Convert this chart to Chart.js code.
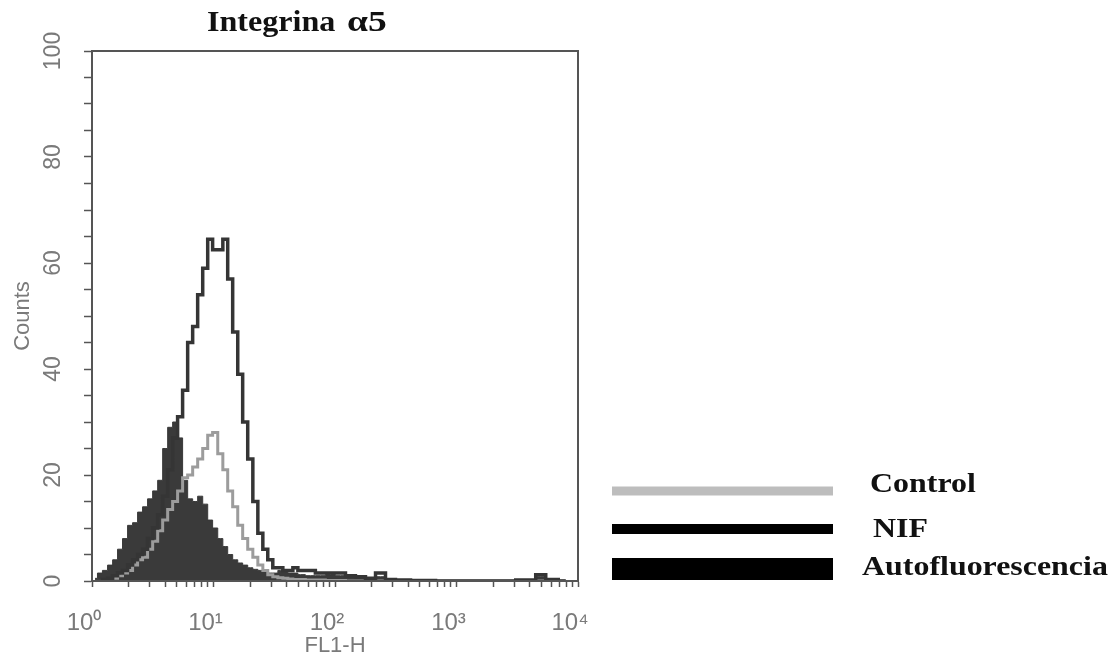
<!DOCTYPE html>
<html>
<head>
<meta charset="utf-8">
<title>Integrina α5</title>
<script src="https://cdn.jsdelivr.net/npm/chart.js@4/dist/chart.umd.min.js"></script>
<style>
  html, body { margin: 0; padding: 0; background: #fff; }
  canvas { display: block; }
</style>
</head>
<body>
<canvas id="histo" width="1114" height="661"></canvas>
<script>
// FL1-H bin centres (log channel), shared by the three histograms
const fl1 = [1.06, 1.16, 1.28, 1.41, 1.55, 1.70, 1.87, 2.06, 2.26, 2.49,
             2.73, 3.01, 3.31, 3.64, 4.00, 4.40, 4.83, 5.31, 5.84, 6.43,
             7.06, 7.77, 8.55, 9.39, 10.3, 11.4, 12.5, 13.7, 15.1, 16.6,
             18.2, 20.1, 22.1, 24.3, 26.7, 29.3, 32.3, 35.5, 39.0, 42.9,
             47.2, 51.9, 62.7, 75.8, 91.6, 111, 134, 162, 196, 237,
             286, 346, 506, 894, 2312, 4080, 4935, 5966, 7930];

// counts per bin
const nif = [0, 0, 0.3, 0.5, 1, 1.5, 2, 3, 4, 5,
             6, 8, 10, 12.5, 16, 21, 27, 31, 36, 45,
             48, 54, 59, 64.5, 62.5, 62.5, 64.5, 57, 47, 39,
             30, 23, 15, 9, 6, 4, 2.5, 2.5, 2, 2,
             2.5, 2, 2, 1.5, 1.5, 1.5, 1, 0.8, 0.5, 1.5,
             0.3, 0.2, 0.1, 0, 0, 0.2, 1.2, 0.3, 0];
const control = [0, 0, 0.2, 0.3, 0.5, 1, 1.5, 2, 3, 4,
                 4.5, 6, 7.5, 9.5, 11.5, 13.5, 15, 17, 19.5, 20,
                 21.5, 23, 25, 27.5, 28, 24, 21, 17, 14, 10.5,
                 8, 6, 4.5, 3, 2, 1.2, 0.8, 0.6, 0.5, 0.4,
                 0.3, 0.3, 0.2, 0.2, 0.1, 0.1, 0, 0, 0, 0,
                 0, 0, 0, 0, 0, 0, 0, 0, 0];
const autofluor = [0.5, 1.5, 2, 3, 4, 6, 8, 10.5, 11, 13,
                   14, 15.5, 17, 19, 25, 29, 30, 27, 19, 15.5,
                   15, 16, 14.5, 11.5, 10, 8, 6.5, 5, 4, 3.4,
                   3, 2.5, 2.2, 2, 1.8, 1.5, 1.5, 2, 2, 1.5,
                   1.5, 1.2, 1, 1, 1.2, 1, 0.8, 0.6, 0.3, 0.8,
                   0.2, 0.2, 0, 0.1, 0, 0.2, 0.8, 0.2, 0];

const xMajorTicks = [1, 10, 100, 1000, 10000];
const xTickLabels = ['10\u2070', '10\u00b9', '10\u00b2', '10\u00b3', '10\u2074'];
const yTickLabels = ['0', '20', '40', '60', '80', '100'];
const legendNames = ['Control', 'NIF', 'Autofluorescencia'];

const axisGrey = '#7a7a7a';
const frameGrey = '#555555';
const sans = '"Liberation Sans", Arial, sans-serif';

// all log ticks: 1,2,...9,10,20,...,10000
const xAllTicks = [];
xMajorTicks.forEach(function (m, i) {
  if (i === xMajorTicks.length - 1) { xAllTicks.push(m); return; }
  for (let k = 1; k < 10; k++) xAllTicks.push(k * m);
});

function pts(arr) {
  return fl1.map(function (x, i) { return { x: x, y: arr[i] }; });
}

// frame round the plot area
const framePlugin = {
  id: 'frame',
  afterDatasetsDraw(chart) {
    const a = chart.chartArea, ctx = chart.ctx;
    ctx.save();
    ctx.strokeStyle = frameGrey;
    ctx.lineWidth = 2;
    ctx.strokeRect(a.left, a.top, a.right - a.left, a.bottom - a.top);
    ctx.restore();
  }
};

// title and side legend, serif bold, slightly wide like the scan
const legendBars = [
  { color: '#bdbdbd', mid: 491, h: 9, tx: 870, ty: 492 },
  { color: '#000000', mid: 529, h: 10, tx: 873, ty: 537 },
  { color: '#000000', mid: 569, h: 22, tx: 862, ty: 575 }
];
function wideText(ctx, text, x, y, sx) {
  ctx.save();
  ctx.translate(x, y);
  ctx.scale(sx, 1);
  ctx.fillText(text, 0, 0);
  ctx.restore();
}
const sidePlugin = {
  id: 'side',
  afterDraw(chart) {
    const ctx = chart.ctx;
    ctx.save();
    ctx.fillStyle = '#111';
    ctx.textBaseline = 'alphabetic';
    ctx.font = 'bold 30px "Liberation Serif", "Times New Roman", serif';
    wideText(ctx, 'Integrina', 207, 31, 1.07);
    wideText(ctx, '\u03b15', 347, 31, 1.25);
    ctx.font = 'bold 28px "Liberation Serif", "Times New Roman", serif';
    legendNames.forEach(function (name, i) {
      const b = legendBars[i];
      ctx.fillStyle = b.color;
      ctx.fillRect(612, b.mid - b.h / 2, 221, b.h);
      ctx.fillStyle = '#111';
      wideText(ctx, name, b.tx, b.ty, 1.14);
    });
    ctx.restore();
  }
};

const config = {
  type: 'line',
  data: {
    datasets: [
      { label: 'NIF', data: pts(nif), borderColor: '#353535', borderWidth: 3.5,
        fill: false, stepped: 'middle', pointRadius: 0 },
      { label: 'Control', data: pts(control), borderColor: '#9c9c9c', borderWidth: 3,
        fill: false, stepped: 'middle', pointRadius: 0 },
      { label: 'Autofluorescencia', data: pts(autofluor), borderColor: '#3a3a3a', borderWidth: 1,
        backgroundColor: '#3a3a3a', fill: 'origin', stepped: 'middle', pointRadius: 0 }
    ]
  },
  options: {
    responsive: false,
    animation: false,
    events: [],
    layout: { padding: { top: 51, right: 536, left: 0, bottom: 0 } },
    plugins: {
      legend: { display: false },
      title: { display: false },
      tooltip: { enabled: false }
    },
    scales: {
      x: {
        type: 'logarithmic',
        min: 1,
        max: 10000,
        afterBuildTicks: function (s) { s.ticks = xAllTicks.map(function (v) { return { value: v }; }); },
        afterFit: function (s) { s.height = 80; },
        grid: { drawOnChartArea: false, drawTicks: true, tickLength: 6, tickColor: frameGrey, tickWidth: 1.5 },
        border: { display: true, color: frameGrey, width: 2 },
        ticks: {
          autoSkip: false, minRotation: 0, maxRotation: 0, padding: 22, labelOffset: -8,
          color: axisGrey, font: { family: sans, size: 24 },
          callback: function (v) {
            const i = xMajorTicks.indexOf(v);
            return i >= 0 ? xTickLabels[i] : '';
          }
        },
        title: { display: true, text: 'FL1-H', color: axisGrey,
                 font: { family: sans, size: 22 },
                 padding: { top: 0, bottom: 2 } }
      },
      y: {
        min: 0,
        max: 100,
        afterFit: function (s) { s.width = 92; },
        grid: { drawOnChartArea: false, drawTicks: true, tickLength: 8, tickColor: frameGrey, tickWidth: 1.5 },
        border: { display: true, color: frameGrey, width: 2 },
        ticks: {
          stepSize: 5, autoSkip: false, minRotation: 90, maxRotation: 90, crossAlign: 'center', padding: 11,
          color: axisGrey, font: { family: sans, size: 23 },
          callback: function (v) {
            return v % 20 === 0 ? yTickLabels[v / 20] : '';
          }
        },
        title: { display: true, text: 'Counts', color: axisGrey,
                 font: { family: sans, size: 22 },
                 padding: { top: 10, bottom: 0 } }
      }
    }
  },
  plugins: [framePlugin, sidePlugin]
};

new Chart(document.getElementById('histo'), config);
</script>
</body>
</html>
